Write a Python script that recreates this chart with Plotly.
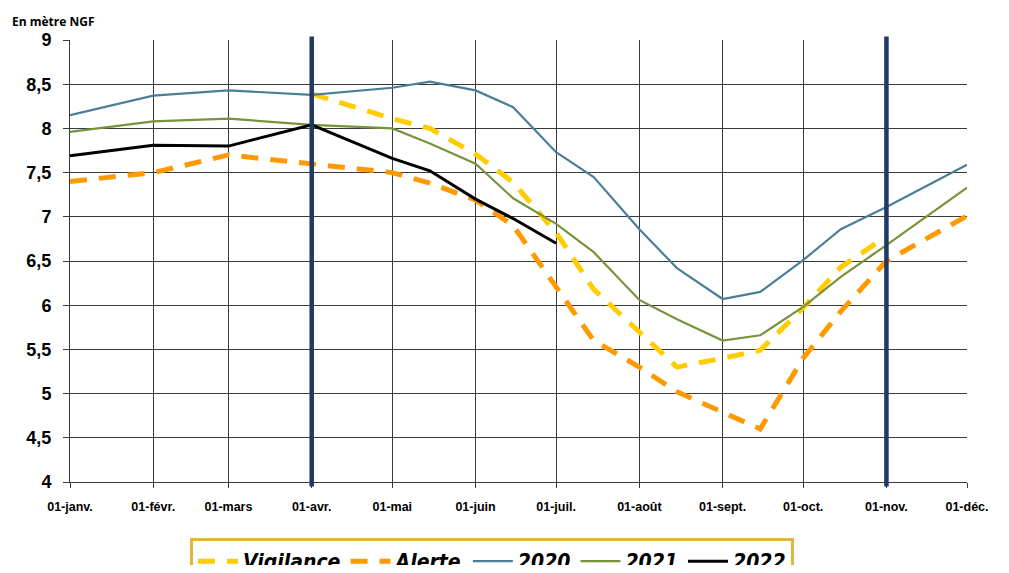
import plotly.graph_objects as go

dates = ['2022-01-01', '2022-02-01', '2022-03-01', '2022-04-01', '2022-05-01', '2022-05-15',
         '2022-06-01', '2022-06-15', '2022-07-01', '2022-07-15', '2022-08-01', '2022-08-15',
         '2022-09-01', '2022-09-15', '2022-10-01', '2022-10-15', '2022-11-01', '2022-12-01']

vigilance = [None, None, None, 8.39, 8.11, 8.00, 7.71, 7.39, 6.82, 6.18, 5.70, 5.30,
             5.40, 5.49, 5.97, 6.43, 6.78, None]
alerte = [7.40, 7.50, 7.70, 7.60, 7.50, 7.38, 7.19, 6.90, 6.21, 5.60, 5.30, 5.02,
          4.79, 4.60, 5.40, 5.93, 6.50, 7.01]
y2020 = [8.15, 8.37, 8.43, 8.38, 8.46, 8.53, 8.43, 8.24, 7.73, 7.45, 6.86, 6.42,
         6.07, 6.15, 6.51, 6.86, 7.11, 7.59]
y2021 = [7.96, 8.08, 8.11, 8.04, 8.00, 7.83, 7.60, 7.21, 6.92, 6.60, 6.06, 5.84,
         5.60, 5.66, 5.98, 6.32, 6.68, 7.33]
y2022 = [7.69, 7.81, 7.80, 8.04, 7.66, 7.52, 7.20, 6.98, 6.70, None, None, None,
         None, None, None, None, None, None]

month_ticks = ['2022-01-01', '2022-02-01', '2022-03-01', '2022-04-01', '2022-05-01', '2022-06-01',
               '2022-07-01', '2022-08-01', '2022-09-01', '2022-10-01', '2022-11-01', '2022-12-01']
month_labels = ['01-janv.', '01-févr.', '01-mars', '01-avr.', '01-mai', '01-juin',
                '01-juil.', '01-août', '01-sept.', '01-oct.', '01-nov.', '01-déc.']
y_ticks = [4, 4.5, 5, 5.5, 6, 6.5, 7, 7.5, 8, 8.5, 9]
markers = ['2022-04-01', '2022-11-01']

fig = go.Figure()
fig.add_trace(go.Scatter(x=dates, y=vigilance, name='Vigilance', mode='lines',
                         line=dict(color='#FFCC00', width=5, dash='17px,12px')))
fig.add_trace(go.Scatter(x=dates, y=alerte, name='Alerte', mode='lines',
                         line=dict(color='#FF9900', width=5, dash='17px,12px')))
fig.add_trace(go.Scatter(x=dates, y=y2020, name='2020', mode='lines',
                         line=dict(color='#4A7F98', width=2.2)))
fig.add_trace(go.Scatter(x=dates, y=y2021, name='2021', mode='lines',
                         line=dict(color='#77933C', width=2.2)))
fig.add_trace(go.Scatter(x=dates, y=y2022, name='2022', mode='lines',
                         line=dict(color='#000000', width=3)))

for d in markers:
    fig.add_shape(type='line', xref='x', yref='paper', x0=d, x1=d, y0=-0.01, y1=1.008,
                  line=dict(color='#1F3864', width=4.5), layer='above')

axis_font_x = dict(family='Liberation Sans, Arial', size=12.5, color='#000000', weight='bold')
fig.update_xaxes(type='date', range=['2022-01-01', '2022-12-01'], tickvals=month_ticks,
                 ticktext=month_labels, showgrid=True, gridcolor='#3a3a3a', gridwidth=1,
                 ticks='outside', ticklen=5, tickcolor='#3a3a3a', showline=True,
                 linecolor='#3a3a3a', linewidth=1, tickfont=axis_font_x, zeroline=False,
                 ticklabelstandoff=8)
fig.update_yaxes(range=[4, 9], tickvals=y_ticks, showgrid=True, gridcolor='#3a3a3a',
                 gridwidth=1, ticks='outside', ticklen=6, tickcolor='#3a3a3a', showline=True,
                 linecolor='#3a3a3a', linewidth=1, zeroline=False, ticklabelstandoff=8,
                 tickfont=dict(family='Liberation Sans, Arial', size=18, color='#000000', weight='bold'))

fig.add_annotation(text='En mètre NGF', xref='paper', yref='paper', x=-0.067, y=1.041,
                   xanchor='left', yanchor='middle', showarrow=False,
                   font=dict(family='Open Sans, Liberation Sans', size=12, color='#000000', weight='bold'))

fig.update_layout(
    width=993, height=557, separators=', ',
    margin=dict(l=62, r=23, t=32, b=83),
    paper_bgcolor='white', plot_bgcolor='white',
    showlegend=True,
    legend=dict(orientation='h', xref='container', yref='container', x=0.4874, xanchor='center',
                y=0.0485, yanchor='top',
                bordercolor='#E3B53B', borderwidth=3, bgcolor='white',
                font=dict(family='DejaVu Sans Condensed, Liberation Sans, Arial', size=21,
                          color='#000000', weight='bold', style='italic'),
                itemwidth=40, tracegroupgap=0),
)

fig.write_html('out.html', config={'displayModeBar': False})
